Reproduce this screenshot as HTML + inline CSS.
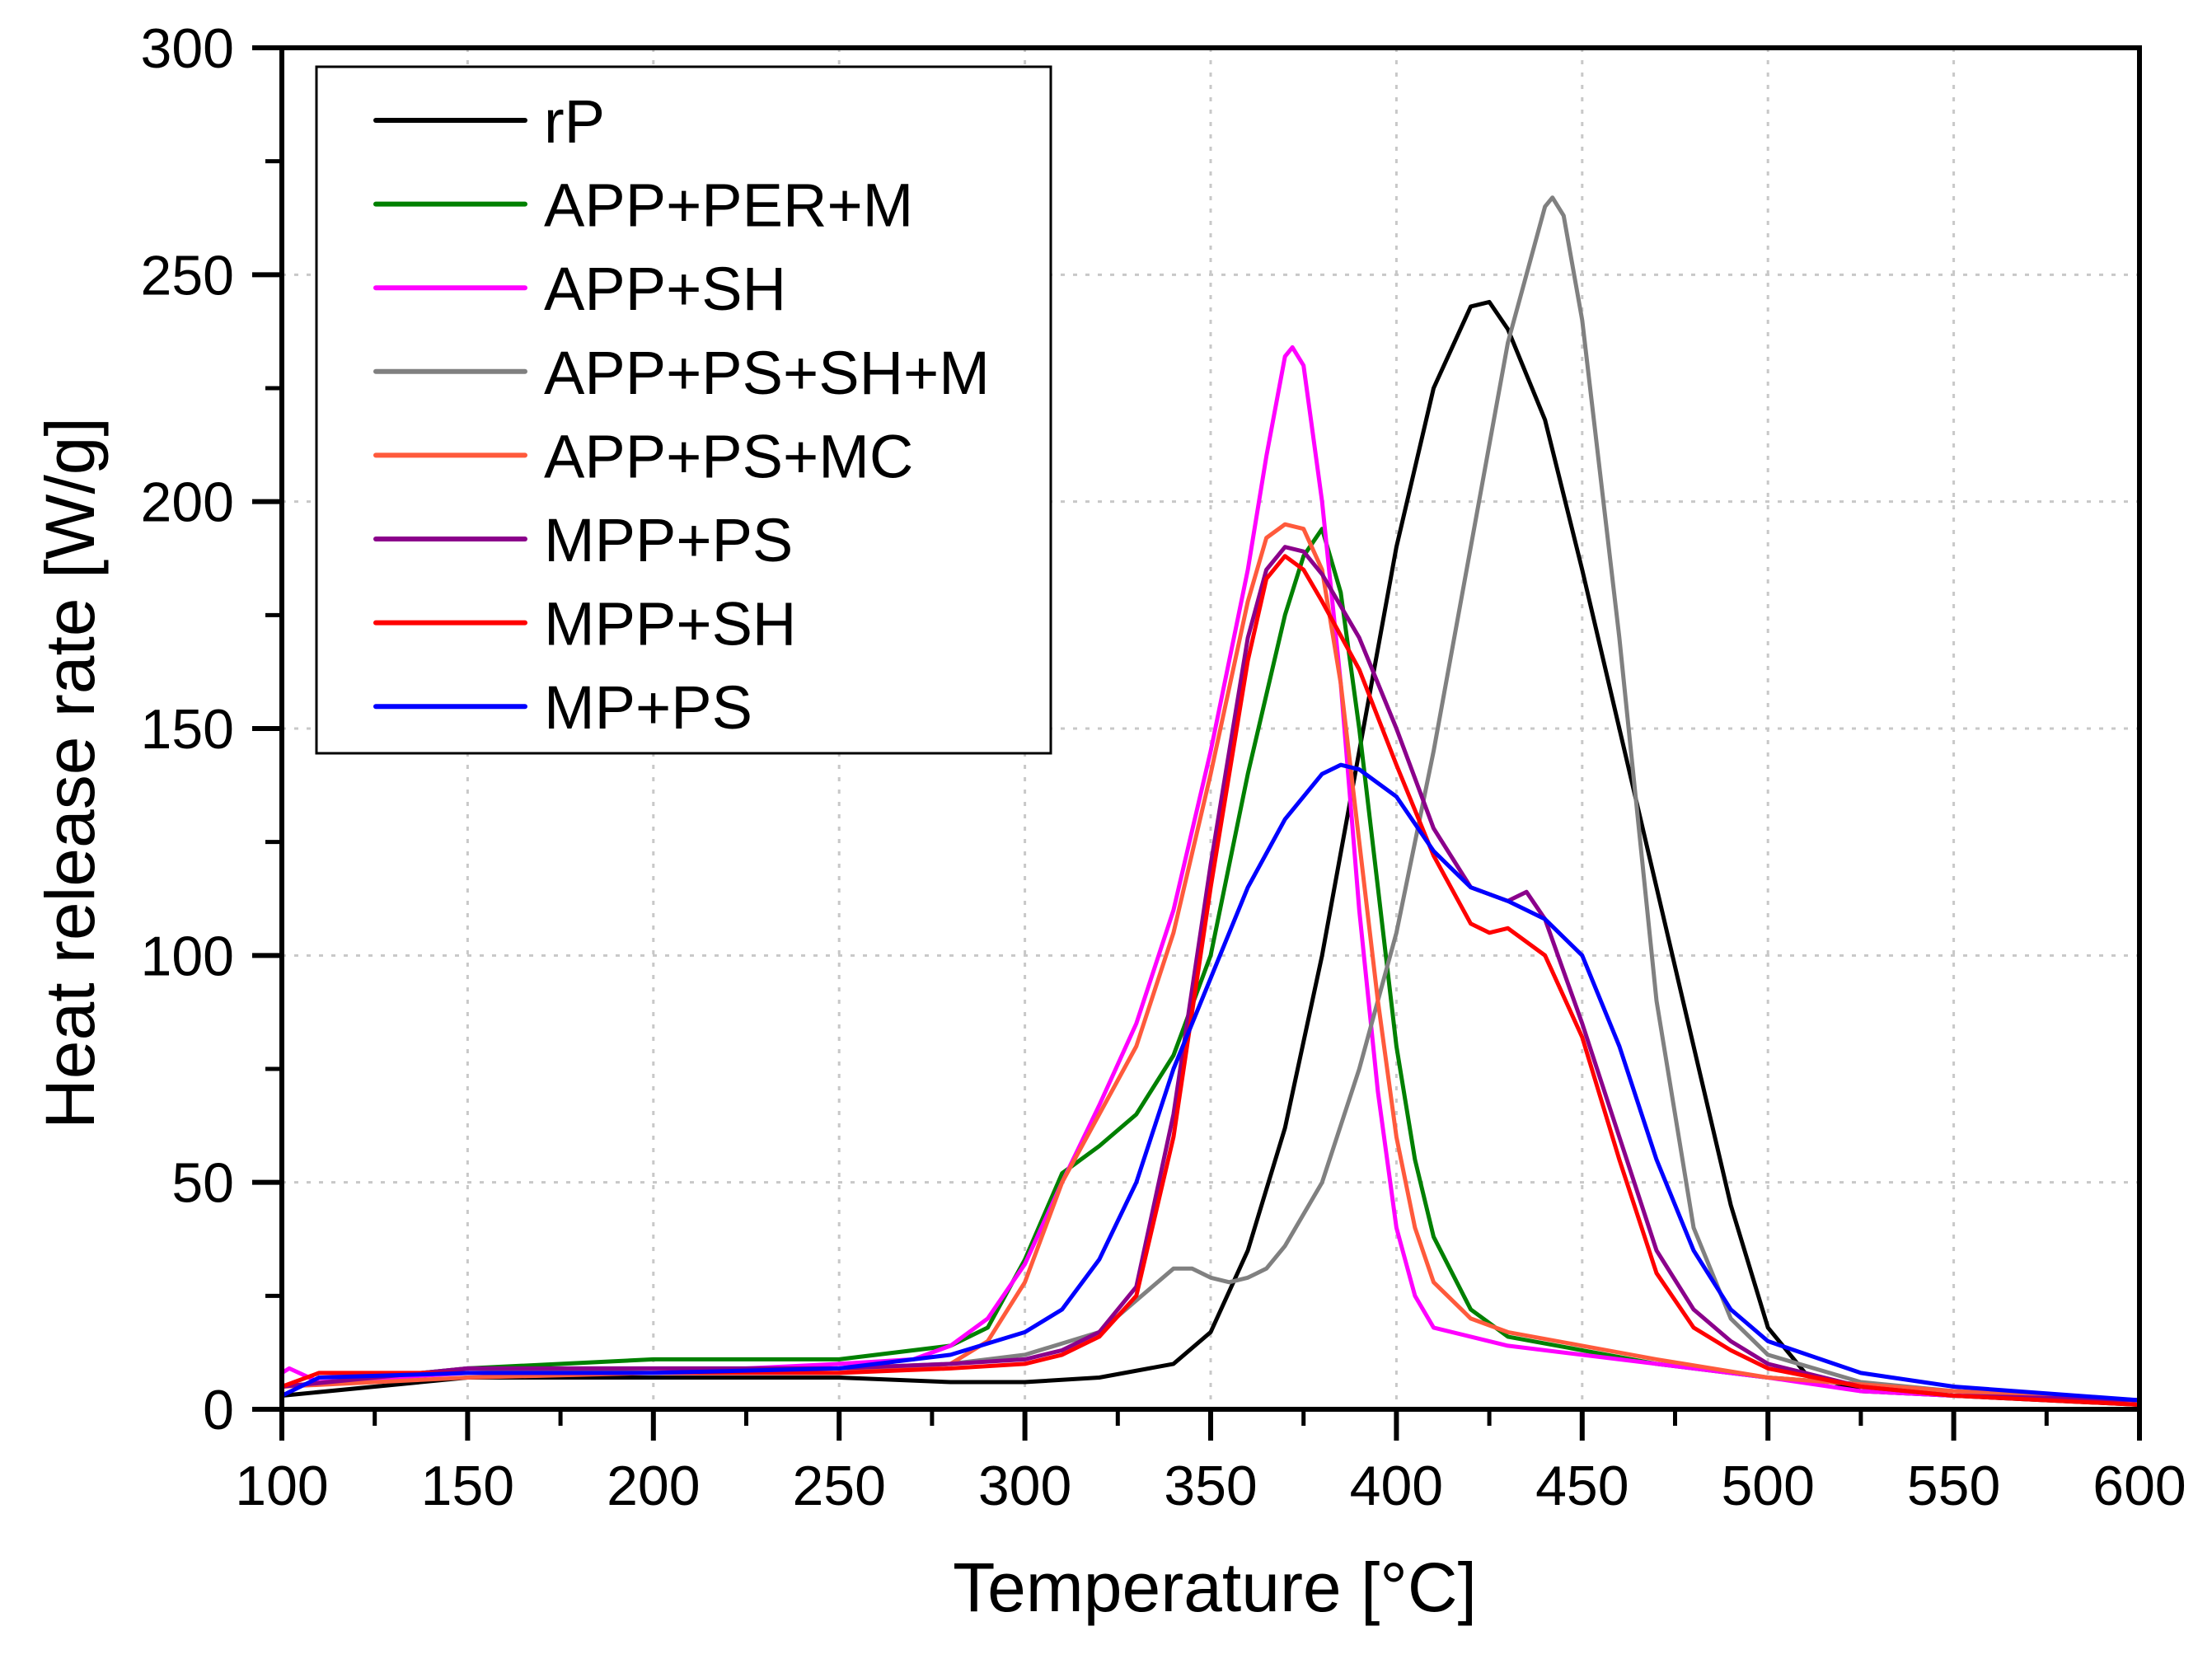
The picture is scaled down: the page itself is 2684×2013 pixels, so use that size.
<!DOCTYPE html>
<html><head><meta charset="utf-8"><style>
html,body{margin:0;padding:0;background:#fff;}
svg{display:block;font-family:"Liberation Sans",Arial,sans-serif;}
</style></head><body>
<svg id="chart" width="2684" height="2013" viewBox="0 0 2684 2013" xmlns="http://www.w3.org/2000/svg">
<g id="grid"></g>
<g id="series"></g>
<g id="axes"></g>
<g id="legend"></g>
<text x="1474" y="1955" font-size="84" text-anchor="middle">Temperature [°C]</text>
<text x="0" y="0" font-size="84" text-anchor="middle" transform="translate(114,938) rotate(-90)">Heat release rate [W/g]</text>
</svg>
<script>
const xTicks=[100,150,200,250,300,350,400,450,500,550,600];
const yTicks=[0,50,100,150,200,250,300];
const seriesNames=["rP","APP+PER+M","APP+SH","APP+PS+SH+M","APP+PS+MC","MPP+PS","MPP+SH","MP+PS"];
const seriesColors=["#000000","#008000","#ff00ff","#808080","#ff5a3c","#8b008b","#ff0000","#0000ff"];
const rP_x=[100,150,200,250,280,300,320,340,350,360,370,380,390,400,410,420,425,430,440,450,460,470,480,490,500,510,525,550,600];
const rP_y=[3,7,7,7,6,6,7,10,17,35,62,100,145,190,225,243,244,238,218,185,150,115,80,45,18,8,4,3,1];
const green_x=[100,150,200,250,280,290,300,310,320,330,340,350,360,370,375,380,385,390,395,400,405,410,420,430,450,470,500,550,600];
const green_y=[5,9,11,11,14,18,33,52,58,65,78,100,140,175,188,194,180,150,115,80,55,38,22,16,13,10,7,4,2];
const magenta_x=[100,102,110,150,200,250,270,280,290,300,310,320,330,340,350,360,365,370,372,375,380,385,390,395,400,405,410,420,430,450,470,500,525,550,600];
const magenta_y=[8,9,6,8,8,10,11,14,20,32,50,67,85,110,145,185,210,232,234,230,200,160,110,70,40,25,18,16,14,12,10,7,4,3,2];
const gray_x=[100,150,200,250,280,300,320,330,340,345,350,355,360,365,370,380,390,400,410,420,430,440,442,445,450,460,470,480,490,500,525,550,600];
const gray_y=[5,9,8,9,10,12,17,24,31,31,29,28,29,31,36,50,75,105,145,190,235,265,267,263,240,170,90,40,20,12,6,4,2];
const orange_x=[100,150,200,250,280,290,300,310,320,330,340,350,360,365,370,375,380,385,390,395,400,405,410,420,430,450,470,500,550,600];
const orange_y=[5,7,8,8,10,15,28,50,65,80,105,140,178,192,195,194,185,160,125,90,60,40,28,20,17,14,11,7,4,2];
const purple_x=[100,150,200,250,280,300,310,320,330,340,350,360,365,370,375,380,390,400,410,420,430,435,440,450,460,470,480,490,500,525,550,600];
const purple_y=[5,9,9,9,10,11,13,17,27,65,120,170,185,190,189,184,170,150,128,115,112,114,108,85,60,35,22,15,10,5,3,2];
const red_x=[100,110,150,200,250,280,300,310,320,330,340,350,360,365,370,375,380,390,400,410,420,425,430,440,450,460,470,480,490,500,525,550,600];
const red_y=[5,8,8,8,8,9,10,12,16,25,60,115,165,183,188,185,178,163,142,122,107,105,106,100,82,55,30,18,13,9,5,3,1];
const blue_x=[100,110,150,200,250,280,300,310,320,330,340,350,360,370,380,385,390,400,410,420,430,440,450,460,470,480,490,500,525,550,600];
const blue_y=[3,7,8,8,9,12,17,22,33,50,75,95,115,130,140,142,141,135,123,115,112,108,100,80,55,35,22,15,8,5,2];
const seriesX=[rP_x,green_x,magenta_x,gray_x,orange_x,purple_x,red_x,blue_x];
const seriesY=[rP_y,green_y,magenta_y,gray_y,orange_y,purple_y,red_y,blue_y];

const L=342,R=2596,T=58,B=1710;
const X=v=>L+(v-100)/500*(R-L);
const Y=v=>B-v/300*(B-T);
const NS="http://www.w3.org/2000/svg";
function mk(tag,attrs,parent){const e=document.createElementNS(NS,tag);for(const k in attrs)e.setAttribute(k,attrs[k]);parent.appendChild(e);return e;}
const grid=document.getElementById('grid'),axes=document.getElementById('axes'),ser=document.getElementById('series'),leg=document.getElementById('legend');

xTicks.forEach(t=>{
  if(t>100&&t<600){const g=mk('line',{x1:X(t),x2:X(t),y1:T,y2:B,stroke:'#c8c8c8','stroke-width':3,'stroke-dasharray':'5,10'},grid);
  
  }
  const tk=mk('line',{x1:X(t),x2:X(t),y1:B,y2:B+38,stroke:'#000','stroke-width':6},axes);
  
  
  const lb=mk('text',{x:X(t),y:1826,'font-size':68,'text-anchor':'middle'},axes);lb.textContent=t;
  
  
});
for(let i=0;i<xTicks.length-1;i++){const m=(xTicks[i]+xTicks[i+1])/2;
  const tk=mk('line',{x1:X(m),x2:X(m),y1:B,y2:B+20,stroke:'#000','stroke-width':5},axes);
  
  }
yTicks.forEach(t=>{
  if(t>0&&t<300){const g=mk('line',{x1:L,x2:R,y1:Y(t),y2:Y(t),stroke:'#c8c8c8','stroke-width':3,'stroke-dasharray':'5,10'},grid);
  
  }
  const tk=mk('line',{x1:L-36,x2:L,y1:Y(t),y2:Y(t),stroke:'#000','stroke-width':6},axes);
  
  
  const lb=mk('text',{x:284,y:Y(t)+24,'font-size':68,'text-anchor':'end'},axes);lb.textContent=t;
  
  
});
for(let i=0;i<yTicks.length-1;i++){const m=(yTicks[i]+yTicks[i+1])/2;
  const tk=mk('line',{x1:L-20,x2:L,y1:Y(m),y2:Y(m),stroke:'#000','stroke-width':5},axes);
  
  }
const fr=mk('rect',{x:L,y:T,width:R-L,height:B-T,fill:'none',stroke:'#000','stroke-width':6},axes);



seriesX.forEach((xs,i)=>{
  const d=xs.map((x,j)=>(j?'L':'M')+X(x).toFixed(1)+' '+Y(seriesY[i][j]).toFixed(1)).join(' ');
  const p=mk('path',{d:d,fill:'none',stroke:seriesColors[i],'stroke-width':5,'stroke-linejoin':'round'},ser);
  
  
});

const lb=mk('rect',{x:384,y:81,width:891,height:833,fill:'#fff',stroke:'#000','stroke-width':3},leg);


seriesNames.forEach((n,i)=>{
  const y=146+i*101.6;
  const ln=mk('line',{x1:456,x2:637,y1:y,y2:y,stroke:seriesColors[i],'stroke-width':6,'stroke-linecap':'round'},leg);
  
  
  const t=mk('text',{x:660,y:y+27,'font-size':74},leg);t.textContent=n;
  
  
});
</script>
</body></html>
